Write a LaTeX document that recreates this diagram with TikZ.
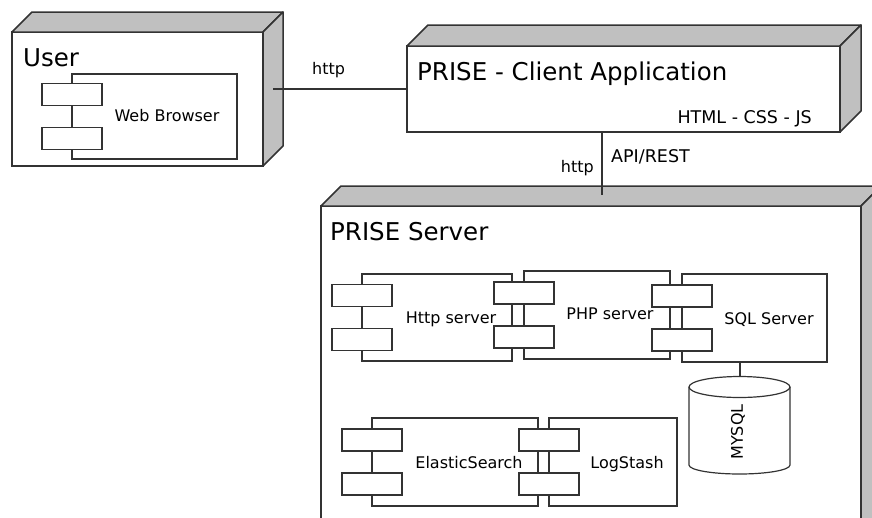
\documentclass[tikz,border=0pt]{standalone}
\usepackage{fontspec}
\setmainfont{DejaVu Sans}
\usetikzlibrary{calc,fit}
\definecolor{edgecol}{HTML}{333333}
\definecolor{facegray}{HTML}{C0C0C0}
\tikzset{
  frontbox/.style={draw=edgecol, line width=1.5pt, fill=white, inner sep=0pt, outer sep=0pt},
  boxface/.style={draw=edgecol, line width=1.5pt, fill=facegray, line join=round},
  compbox/.style={draw=edgecol, line width=1.2pt, fill=white, inner sep=0pt, outer sep=0pt},
  smallbox/.style={draw=edgecol, line width=1.2pt, fill=white},
  titletxt/.style={font=\fontsize{24.5}{28}\selectfont, inner sep=0pt},
  lbltxt/.style={font=\fontsize{16}{19}\selectfont, inner sep=0pt},
  capstxt/.style={font=\fontsize{17.5}{20}\selectfont, inner sep=0pt},
  conn/.style={draw=edgecol, line width=1.2pt},
}
% 3D deployment box: name, x1, y1, x2, y2, depth
\newcommand\mythreed[6]{%
  \node[frontbox, fit={(#2,#3) (#4,#5)}] (#1) {};
  \filldraw[boxface] (#1.north west) -- ++(#6,-#6) -- ($(#1.north east)+(#6,-#6)$) -- (#1.north east) -- cycle;
  \filldraw[boxface] (#1.north east) -- ++(#6,-#6) -- ($(#1.south east)+(#6,-#6)$) -- (#1.south east) -- cycle;
}
% component: name, x1, y1, x2, y2
\newcommand\mycomp[5]{%
  \node[compbox, fit={(#2,#3) (#4,#5)}] (#1) {};
  \filldraw[smallbox] ($(#1.west)+(-30,-33)$) rectangle ($(#1.west)+(30,-11)$);
  \filldraw[smallbox] ($(#1.west)+(-30,11)$) rectangle ($(#1.west)+(30,33)$);
}
\begin{document}
\begin{tikzpicture}[x=1pt,y=-1pt]
\useasboundingbox (0,0) rectangle (872,517);
\clip (0,0) rectangle (872,517);

% ---- boxes ----
\mythreed{user}{12}{32}{263}{166}{20}
\mythreed{client}{407}{46}{840}{132}{21}
\mythreed{server}{321}{206}{861}{570}{20}

% ---- connectors ----
\coordinate (uside) at (273,89);
\draw[conn] (client.west) -- (client.west -| uside);
\coordinate (cdown) at (602,132);
\coordinate (stop) at (602,195);
\draw[conn] (cdown |- client.south) -- (stop);

\node[lbltxt, anchor=base west] (http1) at (312,74) {http};
\node[lbltxt, anchor=base east] (http2) at (594,172) {http};
\node[capstxt, anchor=base west] (api) at (611,162) {API/REST};

% ---- titles ----
\node[titletxt, anchor=base west] (usert) at (23,66) {User};
\node[titletxt, anchor=base west] (clientt) at (417,80) {PRISE - Client Application};
\node[capstxt, anchor=base east] (htmlt) at (812,123) {HTML - CSS - JS};
\node[titletxt, anchor=base west] (servert) at (330,240) {PRISE Server};

% ---- components ----
\mycomp{web}{72}{74}{237}{159}
\node[lbltxt, anchor=base] (webt) at (167,121) {Web Browser};

\mycomp{httpc}{362}{274}{512}{361}
\node[lbltxt, anchor=base] (httpt) at (451,323) {Http server};
\mycomp{php}{524}{271}{670}{359}
\node[lbltxt, anchor=base] (phpt) at (610,319) {PHP server};
\mycomp{sql}{682}{274}{827}{362}
\node[lbltxt, anchor=base] (sqlt) at (769,324) {SQL Server};

\mycomp{es}{372}{418}{538}{506}
\node[lbltxt, anchor=base] (est) at (469,468) {ElasticSearch};
\mycomp{ls}{549}{418}{677}{506}
\node[lbltxt, anchor=base] (lst) at (627,468) {LogStash};

% ---- database cylinder ----
\filldraw[smallbox] (689,387) -- (689,465) arc[start angle=180, end angle=0, x radius=50.5, y radius=9]
  -- (790,387) arc[start angle=0, end angle=-180, x radius=50.5, y radius=10.5] -- cycle;
\draw[smallbox, fill=none] (689,387) arc[start angle=180, end angle=0, x radius=50.5, y radius=10.5];
\coordinate (cyltop) at (740,376.5);
\draw[conn] (cyltop |- sql.south) -- (cyltop);
\node[lbltxt, rotate=90] (mysql) at (738,432) {MYSQL};
\end{tikzpicture}
\end{document}
